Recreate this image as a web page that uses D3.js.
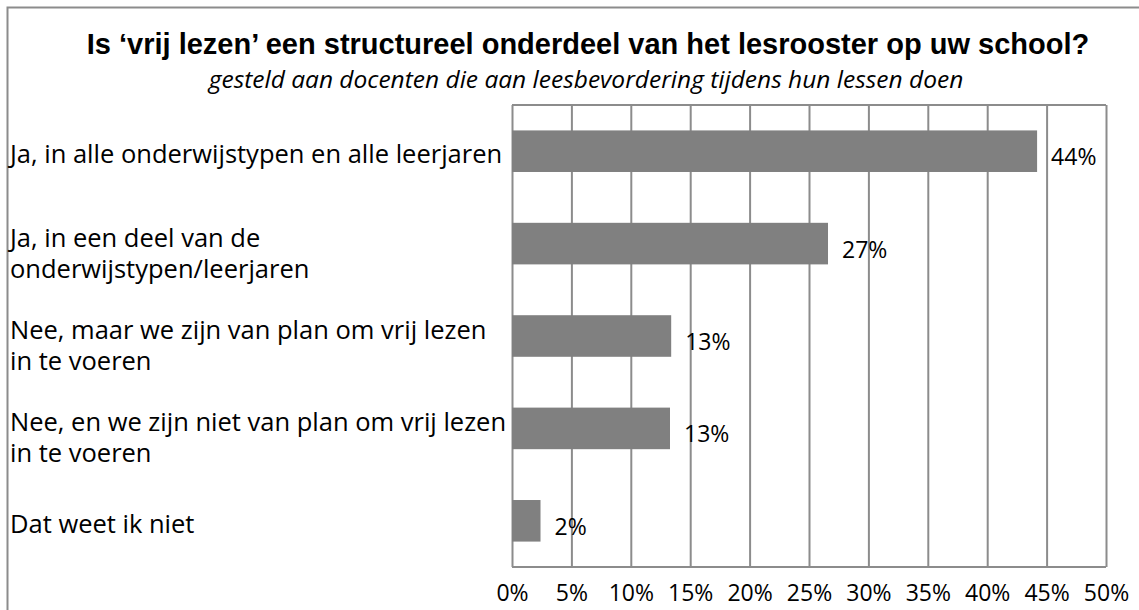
<!DOCTYPE html>
<meta charset="utf-8">
<style>
body { margin: 0; background: #fff; }
svg text { fill: #000; }
.cat, .val, .tick text { font-family: 'Open Sans', sans-serif; }
.grid line, .grid path { stroke: #8c8c8c; stroke-width: 2px; }
</style>
<body>
<script src="https://d3js.org/d3.v7.min.js"></script>
<script>

// data
var categories = [
  ["Ja, in alle onderwijstypen en alle leerjaren"],
  ["Ja, in een deel van de", "onderwijstypen/leerjaren"],
  ["Nee, maar we zijn van plan om vrij lezen", "in te voeren"],
  ["Nee, en we zijn niet van plan om vrij lezen", "in te voeren"],
  ["Dat weet ik niet"]
];
var values = [44.2, 26.6, 13.4, 13.3, 2.4];
var valueLabels = ["44%", "27%", "13%", "13%", "2%"];
var tickValues = [0, 5, 10, 15, 20, 25, 30, 35, 40, 45, 50];

var W = 1139, H = 610;
var plot = {left: 512, right: 1106, top: 105, bottom: 567};

var svg = d3.select("body").append("svg")
    .attr("width", W)
    .attr("height", H);

// outer frame (runs off the right and bottom edge)
svg.append("rect")
    .attr("x", 7.5).attr("y", 7.5)
    .attr("width", W + 20).attr("height", H + 20)
    .attr("fill", "none")
    .attr("stroke", "#8c8c8c")
    .attr("stroke-width", 2);

// titles
svg.append("text")
    .attr("x", 588).attr("y", 54)
    .attr("text-anchor", "middle")
    .style("font-family", "'Liberation Sans', Arial, sans-serif")
    .style("font-weight", "bold")
    .style("font-size", "29px")
    .text("Is ‘vrij lezen’ een structureel onderdeel van het lesrooster op uw school?");

svg.append("text")
    .attr("x", 586).attr("y", 88)
    .attr("text-anchor", "middle")
    .style("font-family", "'Open Sans', sans-serif")
    .style("font-style", "italic")
    .style("font-size", "24.5px")
    .text("gesteld aan docenten die aan leesbevordering tijdens hun lessen doen");

// scales
var x = d3.scaleLinear().domain([0, 50]).range([plot.left, plot.right]);
var y = d3.scaleBand()
    .domain(d3.range(values.length))
    .range([plot.top, plot.bottom])
    .paddingInner(0.55)
    .paddingOuter(0.275);

// vertical gridlines + tick labels
var xAxis = svg.append("g")
    .attr("class", "grid")
    .attr("transform", "translate(0," + plot.bottom + ")")
    .call(d3.axisBottom(x)
        .tickValues(tickValues)
        .tickSize(-(plot.bottom - plot.top))
        .tickPadding(18)
        .tickFormat(function(d) { return d + "%"; }));
xAxis.select(".domain").remove();
xAxis.selectAll(".tick text")
    .style("font-size", "23px")
    .attr("fill", "#000");

// top and bottom edge of the plot area
svg.append("g").selectAll("line")
    .data([plot.top, plot.bottom])
    .join("line")
    .attr("x1", plot.left).attr("x2", plot.right)
    .attr("y1", function(d) { return d; })
    .attr("y2", function(d) { return d; })
    .attr("stroke", "#8c8c8c")
    .attr("stroke-width", 2);

// bars
svg.append("g").selectAll("rect")
    .data(values)
    .join("rect")
    .attr("x", x(0))
    .attr("y", function(d, i) { return y(i); })
    .attr("width", function(d) { return x(d) - x(0); })
    .attr("height", y.bandwidth())
    .attr("fill", "#808080");

// value labels
svg.append("g").selectAll("text")
    .data(values)
    .join("text")
    .attr("class", "val")
    .attr("x", function(d) { return x(d) + 14; })
    .attr("y", function(d, i) { return y(i) + y.bandwidth() / 2 + 6; })
    .attr("dy", "0.35em")
    .style("font-size", "23px")
    .text(function(d, i) { return valueLabels[i]; });

// category labels
var cat = svg.append("g").selectAll("text")
    .data(categories)
    .join("text")
    .attr("class", "cat")
    .style("font-size", "25.5px")
    .attr("y", function(d, i) {
      return y(i) + y.bandwidth() / 2 + (d.length > 1 ? -6 : 3);
    });

cat.selectAll("tspan")
    .data(function(d) { return d; })
    .join("tspan")
    .attr("x", 10)
    .attr("dy", function(d, j) { return j === 0 ? "0.35em" : "31px"; })
    .text(function(d) { return d; });

</script>
</body>
